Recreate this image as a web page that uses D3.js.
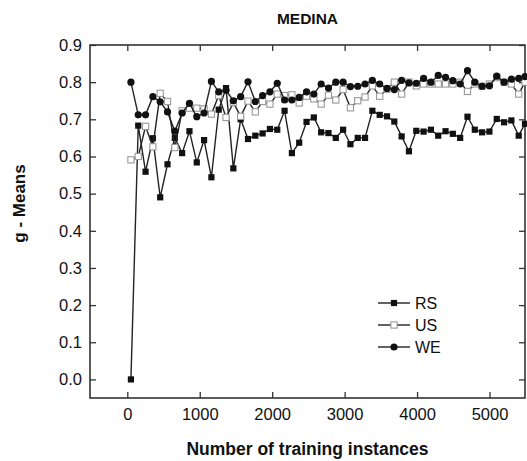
<!DOCTYPE html>
<html>
<head>
<meta charset="utf-8">
<script src="https://cdn.jsdelivr.net/npm/d3@7"></script>
<style>
  body { margin: 0; background: #fff; }
  text { font-family: "Liberation Sans", Arial, sans-serif; fill: #111; }
</style>
</head>
<body>
<svg id="chart"></svg>
<script>
// Data
const instances = [50, 151, 252, 353, 454, 555, 656, 757, 858, 959, 1060, 1161, 1262, 1363, 1464,
  1565, 1666, 1767, 1868, 1969, 2070, 2171, 2272, 2373, 2474, 2575, 2676, 2777, 2878, 2979,
  3080, 3181, 3282, 3383, 3484, 3585, 3686, 3787, 3888, 3989, 4090, 4191, 4292, 4393, 4494,
  4595, 4696, 4797, 4898, 4999, 5100, 5201, 5302, 5403, 5490];

const rsValues = [0.0, 0.683, 0.559, 0.649, 0.49, 0.579, 0.65, 0.609, 0.668, 0.584, 0.644, 0.544,
  0.726, 0.784, 0.568, 0.70, 0.647, 0.656, 0.662, 0.674, 0.672, 0.723, 0.609, 0.637, 0.693,
  0.705, 0.665, 0.663, 0.65, 0.672, 0.633, 0.65, 0.65, 0.723, 0.712, 0.708, 0.694, 0.654,
  0.614, 0.669, 0.667, 0.672, 0.656, 0.668, 0.661, 0.65, 0.707, 0.672, 0.665, 0.667, 0.701,
  0.692, 0.697, 0.656, 0.688];

const usValues = [0.591, 0.60, 0.681, 0.626, 0.77, 0.748, 0.624, 0.723, 0.73, 0.73, 0.728, 0.714,
  0.764, 0.705, 0.745, 0.708, 0.749, 0.72, 0.748, 0.741, 0.768, 0.764, 0.766, 0.744, 0.762,
  0.755, 0.741, 0.765, 0.752, 0.78, 0.731, 0.75, 0.76, 0.79, 0.762, 0.781, 0.80, 0.768,
  0.80, 0.79, 0.795, 0.795, 0.795, 0.795, 0.795, 0.80, 0.775, 0.795, 0.789, 0.795, 0.812,
  0.80, 0.795, 0.768, 0.80];

const weValues = [0.80, 0.712, 0.712, 0.761, 0.747, 0.72, 0.668, 0.717, 0.743, 0.707, 0.717, 0.802,
  0.774, 0.778, 0.75, 0.761, 0.801, 0.748, 0.764, 0.774, 0.797, 0.752, 0.752, 0.759, 0.774,
  0.768, 0.795, 0.784, 0.80, 0.80, 0.788, 0.789, 0.795, 0.805, 0.795, 0.783, 0.78, 0.805,
  0.798, 0.797, 0.81, 0.80, 0.818, 0.813, 0.804, 0.795, 0.831, 0.80, 0.789, 0.79, 0.816,
  0.80, 0.808, 0.81, 0.815];

const seriesNames = ["RS", "US", "WE"];
const xTicks = [0, 1000, 2000, 3000, 4000, 5000];
const yTicks = [0.0, 0.1, 0.2, 0.3, 0.4, 0.5, 0.6, 0.7, 0.8, 0.9];

// Constants
const width = 527;
const height = 461;
const margin = { left: 90, right: 2, top: 45, bottom: 63 };
const visWidth = width - margin.left - margin.right;
const visHeight = height - margin.top - margin.bottom;

const svg = d3.select('#chart')
  .attr('width', width)
  .attr('height', height);

const chart = svg.append('g')
  .attr('transform', 'translate(' + margin.left + ',' + margin.top + ')');

// Scales
const x = d3.scaleLinear().domain([-515, 5490]).range([0, visWidth]);
const y = d3.scaleLinear().domain([-0.05, 0.9]).range([visHeight, 0]);

const frameColor = '#333';

// Axes: ticks point inward on all four sides
function tickAxis(axisFn, scale, major, minor, showLabels, fmt) {
  const g = chart.append('g');
  g.call(axisFn(scale).tickValues(minor).tickSize(-3).tickFormat(''));
  g.call(axisFn(scale).tickValues(major).tickSize(-6).tickPadding(showLabels ? 8 : 0)
    .tickFormat(showLabels ? fmt : ''));
  g.selectAll('.domain').remove();
  g.selectAll('line').attr('stroke', frameColor).attr('stroke-width', 1.3);
  return g;
}

const xMinor = d3.range(-500, 5500, 500);
const yMinor = d3.range(-0.05, 0.9, 0.05).map(v => +v.toFixed(2));

const xBottom = tickAxis(d3.axisBottom, x, xTicks, xMinor, true, d3.format('d'))
  .attr('transform', `translate(0,${visHeight})`);
xBottom.selectAll('text').attr('font-size', '16.5px').attr('dy', '0.85em');

tickAxis(d3.axisTop, x, xTicks, xMinor, false);

const yLeft = tickAxis(d3.axisLeft, y, yTicks, yMinor, true, d3.format('.1f'));
yLeft.selectAll('text').attr('font-size', '16.5px');

tickAxis(d3.axisRight, y, yTicks, yMinor, false)
  .attr('transform', `translate(${visWidth},0)`);

// Frame
chart.append('rect')
  .attr('width', visWidth)
  .attr('height', visHeight)
  .attr('fill', 'none')
  .attr('stroke', frameColor)
  .attr('stroke-width', 1.6);

// Series
const line = d3.line()
  .x(d => x(d.x))
  .y(d => y(d.y));

const series = [
  { name: seriesNames[0], values: rsValues, marker: 'filledSquare' },
  { name: seriesNames[1], values: usValues, marker: 'openSquare' },
  { name: seriesNames[2], values: weValues, marker: 'circle' },
];

function drawMarker(sel, type) {
  if (type === 'circle') {
    sel.append('circle').attr('r', 3.6).attr('fill', '#111');
  } else {
    sel.append('rect')
      .attr('x', -3.1).attr('y', -3.1)
      .attr('width', 6.2).attr('height', 6.2)
      .attr('fill', type === 'openSquare' ? '#fff' : '#111')
      .attr('stroke', type === 'openSquare' ? '#999' : 'none')
      .attr('stroke-width', 1.1);
  }
}

series.forEach(s => {
  const pts = instances.map((xi, i) => ({ x: xi, y: s.values[i] }));

  chart.append('path')
    .datum(pts)
    .attr('fill', 'none')
    .attr('stroke', '#222')
    .attr('stroke-width', 1.4)
    .attr('d', line);

  chart.append('g')
    .selectAll('g')
    .data(pts)
    .enter()
    .append('g')
    .attr('transform', d => `translate(${x(d.x)},${y(d.y)})`)
    .each(function() { drawMarker(d3.select(this), s.marker); });
});

// Legend
const legend = svg.append('g').attr('transform', 'translate(378,303)');
series.forEach((s, i) => {
  const row = legend.append('g').attr('transform', `translate(0,${i * 22})`);
  row.append('line')
    .attr('x1', 0).attr('x2', 32)
    .attr('stroke', '#222').attr('stroke-width', 1.4);
  drawMarker(row.append('g').attr('transform', 'translate(16,0)'), s.marker);
  row.append('text')
    .attr('x', 37)
    .attr('dy', '0.35em')
    .attr('font-size', '16px')
    .text(s.name);
});

// Titles
svg.append('text')
  .attr('x', margin.left + visWidth / 2)
  .attr('y', 24)
  .attr('text-anchor', 'middle')
  .attr('font-size', '15.5px')
  .attr('font-weight', 'bold')
  .text('MEDINA');

svg.append('text')
  .attr('x', margin.left + visWidth / 2)
  .attr('y', 455)
  .attr('text-anchor', 'middle')
  .attr('font-size', '17.5px')
  .attr('font-weight', 'bold')
  .text('Number of training instances');

svg.append('text')
  .attr('transform', `translate(25,${margin.top + visHeight / 2 - 18}) rotate(-90)`)
  .attr('text-anchor', 'middle')
  .attr('font-size', '17px')
  .attr('font-weight', 'bold')
  .text('g - Means');
</script>
</body>
</html>
